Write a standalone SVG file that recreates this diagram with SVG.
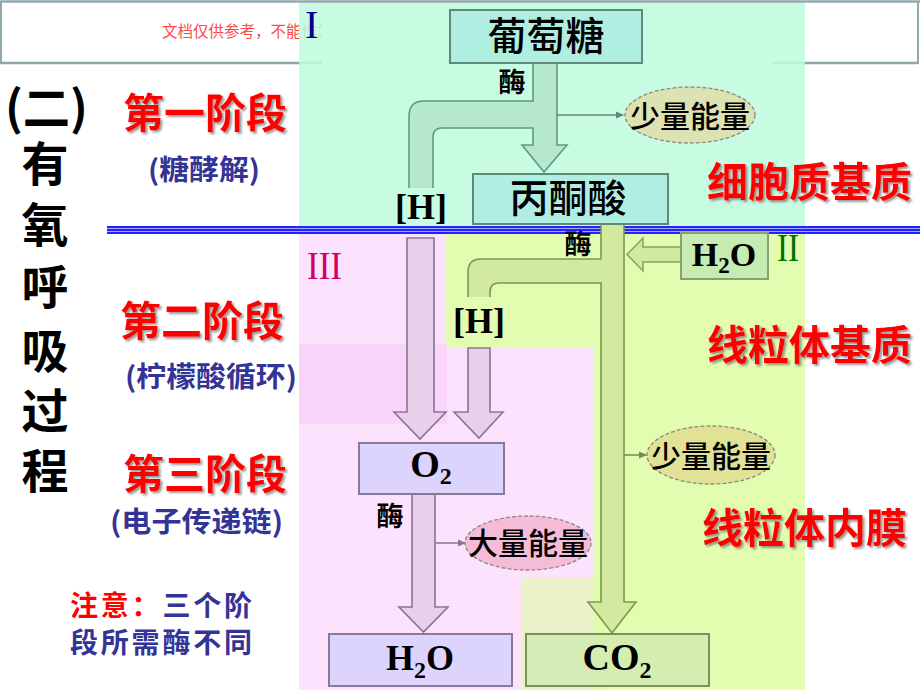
<svg xmlns="http://www.w3.org/2000/svg" width="920" height="690" viewBox="0 0 920 690">
<defs>
<style>
.cjk{font-family:"Noto Sans CJK SC","Noto Sans",sans-serif}
.red{font-family:"Noto Sans CJK SC",sans-serif;font-weight:bold;fill:#ff0000;font-size:41px;filter:url(#sh)}
.sub{font-family:"Noto Sans CJK SC",sans-serif;font-weight:bold;fill:#343496;font-size:28px}
.big{font-family:"Noto Sans CJK SC",sans-serif;font-weight:bold;fill:#000;font-size:47px}
.chem{font-family:"Liberation Serif","Times New Roman",serif;font-weight:bold;fill:#000}
.enz{font-family:"Noto Sans CJK SC",sans-serif;font-weight:bold;font-size:27px;fill:#000}
.energy{font-family:"Noto Sans CJK SC",sans-serif;font-weight:500;font-size:30px;fill:#000}
.a1{fill:#b6e8d0}
.s1{fill:none;stroke:#5e9a80;stroke-width:1.6}
.a2{fill:#d2eaa0}
.s2{fill:none;stroke:#7a9a4a;stroke-width:1.6}
.a3{fill:#e8d0ea;stroke:#8a7496;stroke-width:1.6}
.boxT{fill:#b0eee2;stroke:#5e8a78;stroke-width:2}
.boxP{fill:#dcd4fc;stroke:#8a7896;stroke-width:2}
.ell{stroke:#8a8a7a;stroke-width:1.3;stroke-dasharray:4 2}
.thin{fill:none;stroke-width:1.5}
</style>
<filter id="sh" x="-10%" y="-10%" width="130%" height="140%">
<feDropShadow dx="2" dy="2" stdDeviation="1" flood-color="#777" flood-opacity="0.75"/>
</filter>
<clipPath id="wm"><rect x="0" y="0" width="322" height="63"/></clipPath>
<marker id="m1" markerWidth="8" markerHeight="8" refX="7" refY="4" orient="auto" markerUnits="userSpaceOnUse">
<path d="M0,0.5 L8,4 L0,7.5 Z" fill="#5e8a78"/>
</marker>
<marker id="m2" markerWidth="8" markerHeight="8" refX="7" refY="4" orient="auto" markerUnits="userSpaceOnUse">
<path d="M0,0.5 L8,4 L0,7.5 Z" fill="#7a8a50"/>
</marker>
<marker id="m3" markerWidth="8" markerHeight="8" refX="7" refY="4" orient="auto" markerUnits="userSpaceOnUse">
<path d="M0,0.5 L8,4 L0,7.5 Z" fill="#8a7496"/>
</marker>
</defs>
<rect width="920" height="690" fill="#ffffff"/>

<!-- header frame and watermark -->
<g id="header">
<line x1="0" y1="1.5" x2="920" y2="1.5" stroke="#90a8ac" stroke-width="2.5"/>
<line x1="1" y1="1" x2="1" y2="64" stroke="#90a8ac" stroke-width="2"/>
<line x1="918" y1="1" x2="918" y2="64" stroke="#90a8ac" stroke-width="2"/>
<line x1="0" y1="63" x2="322" y2="63" stroke="#90a8ac" stroke-width="2.5"/>
<line x1="773" y1="63" x2="918" y2="63" stroke="#90a8ac" stroke-width="2.5"/>
<text x="162" y="37" clip-path="url(#wm)" class="cjk" font-size="15.5" fill="#ff4a4a">文档仅供参考，不能作为</text>
</g>

<!-- regions -->
<g id="regions">
<rect x="299" y="3" width="506" height="225" fill="#bffcdd" fill-opacity="0.86"/>
<rect x="445" y="233" width="360" height="457" fill="#e2fcb0"/>
<path d="M299 233 H445 V348 H593 V690 H299 Z" fill="#fce2fc"/>
<rect x="299" y="344" width="148" height="80" fill="#f8d2fa" opacity="0.8"/>
<rect x="522" y="578" width="84" height="112" fill="#e0fca6" opacity="0.6"/>
</g>

<!-- blue divider -->
<g id="divider">
<rect x="107" y="226" width="813" height="8" fill="#a8a8ff"/>
<rect x="107" y="226" width="813" height="2" fill="#2222ff"/>
<rect x="107" y="229" width="813" height="2" fill="#2222ff"/>
<rect x="107" y="232" width="813" height="2" fill="#2222ff"/>
</g>

<!-- left column labels -->
<g id="title">
<text x="5" y="125" class="big" font-size="46" textLength="83" lengthAdjust="spacingAndGlyphs">(二)</text>
<text x="45" y="181" class="big" text-anchor="middle">有</text>
<text x="45" y="242" class="big" text-anchor="middle">氧</text>
<text x="45" y="304" class="big" text-anchor="middle">呼</text>
<text x="45" y="368" class="big" text-anchor="middle">吸</text>
<text x="45" y="428" class="big" text-anchor="middle">过</text>
<text x="45" y="488" class="big" text-anchor="middle">程</text>
</g>
<g id="stage1">
<text x="123" y="128" class="red">第一阶段</text>
<text x="148" y="180" class="sub" textLength="112" lengthAdjust="spacingAndGlyphs">(糖酵解)</text>
</g>
<g id="stage2">
<text x="120" y="336" class="red">第二阶段</text>
<text x="125" y="387" class="sub" textLength="172" lengthAdjust="spacingAndGlyphs">(柠檬酸循环)</text>
</g>
<g id="stage3">
<text x="123" y="489" class="red">第三阶段</text>
<text x="110" y="532" class="sub" textLength="173" lengthAdjust="spacingAndGlyphs">(电子传递链)</text>
</g>
<g id="note">
<text x="70" y="616" class="sub" font-size="30" textLength="182" lengthAdjust="spacing"><tspan fill="#ff0000">注意：</tspan>三个阶</text>
<text x="70" y="653" class="sub" font-size="30" textLength="182" lengthAdjust="spacing">段所需酶不同</text>
</g>

<!-- location labels -->
<g id="loc1"><text x="707" y="197" class="red">细胞质基质</text></g>
<g id="loc2"><text x="707" y="360" class="red">线粒体基质</text></g>
<g id="loc3"><text x="702" y="543" class="red">线粒体内膜</text></g>

<!-- roman numerals -->
<g id="roman1"><text x="305" y="38" font-family="Liberation Serif,serif" font-size="40" fill="#000090">I</text></g>
<g id="roman2"><text x="777" y="261" font-family="Liberation Serif,serif" font-size="40" fill="#007000" textLength="22" lengthAdjust="spacingAndGlyphs">II</text></g>
<g id="roman3"><text x="307" y="279" font-family="Liberation Serif,serif" font-size="40" fill="#cc0066" textLength="35" lengthAdjust="spacingAndGlyphs">III</text></g>

<!-- connectors -->
<g id="connectors">
<!-- stage I: glucose -> pyruvate with [H] branch -->
<path class="a1" d="M533 63 L557 63 L557 145 L567 145 L544 172 L522 145 L533 145 L533 128 L442 128 Q433 128 433 137 L433 188 L409 188 L409 116 Q409 101 424 101 L533 101 Z"/>
<path class="s1" d="M533 63 L533 101 L424 101 Q409 101 409 116 L409 188 M433 188 L433 137 Q433 128 442 128 L533 128 L533 145 L522 145 L544 172 L567 145 L557 145 L557 63"/>
<line x1="557" y1="115" x2="623" y2="115" class="thin" stroke="#5e8a78" marker-end="url(#m1)"/>
<!-- stage II: pyruvate -> CO2 with [H] branch -->
<path class="a2" d="M601 224 L624 224 L624 602 L636 602 L612 633 L588 602 L601 602 L601 283 L499 283 Q490 283 490 292 L490 297 L468 297 L468 272 Q468 259 481 259 L601 259 Z"/>
<path class="s2" d="M601 224 L601 259 L481 259 Q468 259 468 272 L468 297 M490 297 L490 292 Q490 283 499 283 L601 283 L601 602 L588 602 L612 633 L636 602 L624 602 L624 224"/>
<path class="a2" d="M681 247 L643 247 L643 238 L627 254.5 L643 271 L643 262 L681 262 Z" stroke="#8aa060" stroke-width="1.5"/>
<line x1="624" y1="455" x2="646" y2="455" class="thin" stroke="#7a8a50" marker-end="url(#m2)"/>
<!-- stage III -->
<path class="a3" d="M407 238 L434 238 L434 412 L446 412 L420 439 L394 412 L407 412 Z"/>
<path class="a3" d="M468 348 L490 348 L490 412 L503 412 L479 438 L454 412 L468 412 Z"/>
<path class="a3" d="M412 494 L435 494 L435 607 L448 607 L423.5 632 L399 607 L412 607 Z"/>
<line x1="435" y1="543" x2="465" y2="543" class="thin" stroke="#8a7496" marker-end="url(#m3)"/>
</g>

<!-- enzyme labels -->
<g id="enzyme1"><text x="512" y="92" class="enz" text-anchor="middle">酶</text></g>
<g id="enzyme2"><text x="578" y="254" class="enz" text-anchor="middle">酶</text></g>
<g id="enzyme3"><text x="390" y="526" class="enz" text-anchor="middle">酶</text></g>

<!-- [H] labels -->
<g id="H1"><text x="421" y="219" class="chem" font-size="36" text-anchor="middle">[H]</text></g>
<g id="H2"><text x="479" y="333" class="chem" font-size="36" text-anchor="middle">[H]</text></g>

<!-- nodes -->
<g id="glucose">
<rect x="450" y="10" width="192" height="53" class="boxT"/>
<text x="546" y="50" class="cjk" font-size="39" font-weight="500" text-anchor="middle">葡萄糖</text>
</g>
<g id="pyruvate">
<rect x="473" y="174" width="195" height="50" class="boxT"/>
<text x="568" y="212" class="cjk" font-size="39" font-weight="500" text-anchor="middle">丙酮酸</text>
</g>
<g id="energy1">
<ellipse cx="690" cy="115" rx="65" ry="28" fill="#dde2b2" class="ell"/>
<text x="690" y="127" class="energy" text-anchor="middle">少量能量</text>
</g>
<g id="water-in">
<rect x="681" y="233" width="87" height="46" fill="#c6ecb2" stroke="#8aa070" stroke-width="2"/>
<text x="724" y="266" class="chem" font-size="34" text-anchor="middle">H<tspan font-size="23" dy="7">2</tspan><tspan dy="-7">O</tspan></text>
</g>
<g id="energy2">
<ellipse cx="711" cy="455" rx="64" ry="29" fill="#e2e296" class="ell"/>
<text x="711" y="467" class="energy" text-anchor="middle">少量能量</text>
</g>
<g id="oxygen">
<rect x="359" y="443" width="145" height="51" class="boxP"/>
<text x="431" y="477" class="chem" font-size="38" text-anchor="middle">O<tspan font-size="24" dy="7">2</tspan></text>
</g>
<g id="energy3">
<ellipse cx="528" cy="543" rx="63" ry="27" fill="#f4bcd8" class="ell"/>
<text x="528" y="554" class="energy" text-anchor="middle">大量能量</text>
</g>
<g id="water-out">
<rect x="329" y="634" width="183" height="52" class="boxP"/>
<text x="420" y="670" class="chem" font-size="36" text-anchor="middle">H<tspan font-size="24" dy="8">2</tspan><tspan dy="-8">O</tspan></text>
</g>
<g id="co2">
<rect x="526" y="634" width="183" height="52" fill="#cfe9b0" fill-opacity="0.75" stroke="#7a9060" stroke-width="2"/>
<text x="617" y="670" class="chem" font-size="38" text-anchor="middle">CO<tspan font-size="24" dy="8">2</tspan></text>
</g>
</svg>
